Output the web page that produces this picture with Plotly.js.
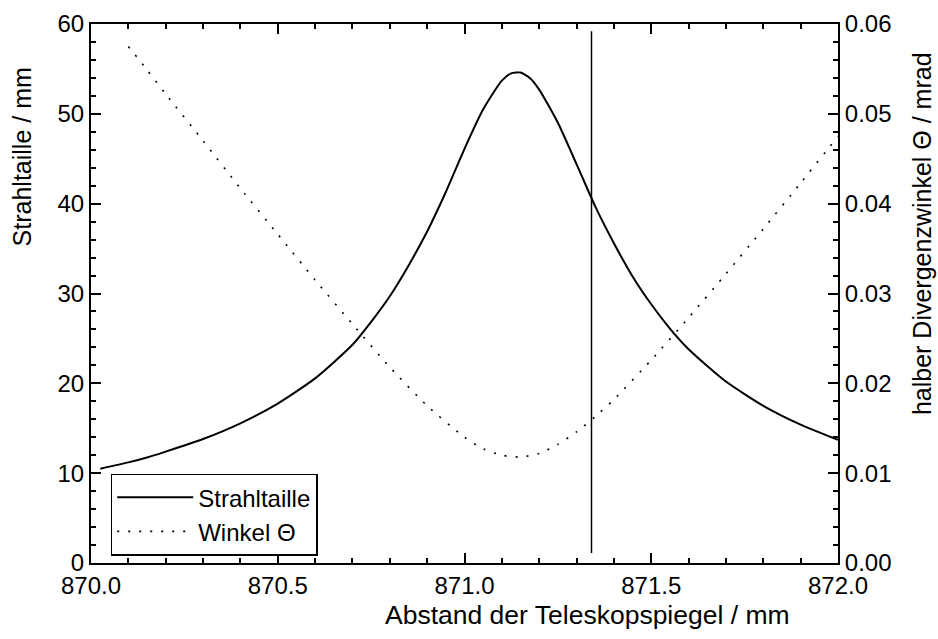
<!DOCTYPE html>
<html>
<head>
<meta charset="utf-8">
<script src="https://cdn.plot.ly/plotly-3.0.1.min.js"></script>
<style>html,body{margin:0;padding:0;background:#fff;}#chart{width:938px;height:639px;}</style>
</head>
<body>
<div id="chart"></div>
<script>
// Strahltaille (beam waist, mm) vs. mirror distance (mm)
const waistX = [870.025, 870.1, 870.15, 870.2, 870.3, 870.4, 870.5, 870.6, 870.7, 870.75, 870.8, 870.85, 870.9, 870.95, 871.0, 871.05, 871.1, 871.125, 871.15, 871.175, 871.2, 871.25, 871.3, 871.35, 871.4, 871.45, 871.5, 871.55, 871.6, 871.7, 871.8, 871.9, 872.0];
const waistY = [10.5, 11.2, 11.75, 12.4, 13.8, 15.55, 17.75, 20.55, 24.3, 26.85, 29.7, 33.1, 36.9, 41.3, 46.1, 50.5, 53.7, 54.5, 54.6, 54.0, 52.7, 49.0, 44.4, 39.7, 35.6, 31.9, 28.8, 26.1, 23.8, 20.2, 17.5, 15.4, 13.7];
// Winkel Theta (half divergence angle, mrad)
const angleX = [870.1, 870.15, 870.2, 870.3, 870.4, 870.5, 870.6, 870.7, 870.8, 870.9, 871.0, 871.05, 871.1, 871.15, 871.2, 871.25, 871.3, 871.35, 871.4, 871.5, 871.6, 871.7, 871.8, 871.9, 872.0];
const angleY = [0.0575, 0.0549, 0.0522, 0.0470, 0.0417, 0.0366, 0.0315, 0.0266, 0.0218, 0.0175, 0.0140, 0.0127, 0.0120, 0.0118, 0.0122, 0.0132, 0.0146, 0.0163, 0.0182, 0.0226, 0.0273, 0.0322, 0.0372, 0.0423, 0.0475];
// vertical marker line
const markerX = [871.34, 871.34];
const markerY = [1.1, 59.2];

const seriesNames = ['Strahltaille', 'Winkel \u0398'];
const xTitle = 'Abstand der Teleskopspiegel / mm';
const yTitle = 'Strahltaille / mm';
const y2Title = 'halber Divergenzwinkel \u0398 / mrad';

const FONT = 'Liberation Sans, Arial, Helvetica, sans-serif';

const traces = [
  {x: waistX, y: waistY, type: 'scatter', mode: 'lines', name: seriesNames[0],
   line: {color: '#000', width: 2, shape: 'spline', smoothing: 0.6}},
  {x: angleX, y: angleY, type: 'scatter', mode: 'lines', name: seriesNames[1], yaxis: 'y2',
   line: {color: '#000', width: 1.6, dash: '2px,9px', shape: 'spline', smoothing: 0.6}},
  {x: markerX, y: markerY, type: 'scatter', mode: 'lines', showlegend: false, hoverinfo: 'skip',
   line: {color: '#000', width: 1.5}}
];

const axisCommon = {
  showgrid: false, zeroline: false, showline: true, linecolor: '#000', linewidth: 2,
  ticks: 'inside', ticklen: 10, tickwidth: 2, tickcolor: '#000',
  tickfont: {family: FONT, size: 24, color: '#000'}
};

function minorTicks(t0, dt) {
  return {tick0: t0, dtick: dt, ticks: 'inside', ticklen: 5, tickwidth: 2, tickcolor: '#000', showgrid: false};
}

const layout = {
  width: 938, height: 639,
  margin: {l: 91, r: 100, t: 24, b: 76},
  paper_bgcolor: '#fff', plot_bgcolor: '#fff',
  font: {family: FONT, color: '#000'},
  showlegend: true,
  legend: {x: 0.0264, y: 0.166, xanchor: 'left', yanchor: 'top', bgcolor: '#fff',
           bordercolor: '#000', borderwidth: 1.5, font: {family: FONT, size: 24, color: '#000'},
           itemwidth: 76, tracegroupgap: 0},
  xaxis: Object.assign({}, axisCommon, {
    range: [870.0, 872.0], tick0: 870, dtick: 0.5, tickformat: '.1f', mirror: 'ticks',
    minor: minorTicks(870, 0.1)
  }),
  yaxis: Object.assign({}, axisCommon, {
    range: [0, 60], tick0: 0, dtick: 10, mirror: false,
    minor: minorTicks(0, 2)
  }),
  yaxis2: Object.assign({}, axisCommon, {
    overlaying: 'y', side: 'right', range: [0, 0.06], tick0: 0, dtick: 0.01, tickformat: '.2f',
    minor: minorTicks(0, 0.002)
  }),
  annotations: [
    {text: xTitle, xref: 'paper', yref: 'paper', x: 0.6647, y: -0.0965, xanchor: 'center', yanchor: 'middle',
     showarrow: false, font: {family: FONT, size: 26.5, color: '#000'}},
    {text: yTitle, xref: 'paper', yref: 'paper', x: -0.092, y: 0.753, xanchor: 'center', yanchor: 'middle',
     textangle: -90, showarrow: false, font: {family: FONT, size: 25, color: '#000'}},
    {text: y2Title, xref: 'paper', yref: 'paper', x: 1.1124, y: 0.612, xanchor: 'center', yanchor: 'middle',
     textangle: -90, showarrow: false, font: {family: FONT, size: 25, color: '#000'}}
  ]
};

Plotly.newPlot('chart', traces, layout, {displayModeBar: false, staticPlot: true});
</script>
</body>
</html>
